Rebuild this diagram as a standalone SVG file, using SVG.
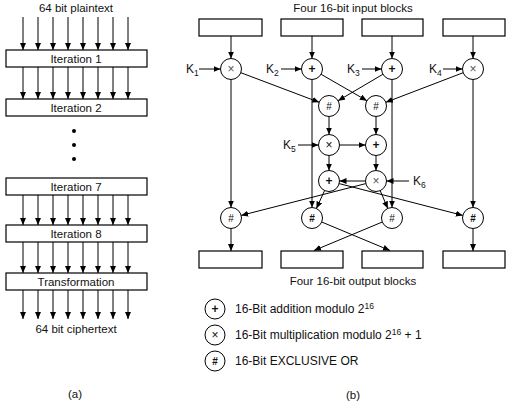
<svg xmlns="http://www.w3.org/2000/svg" width="512" height="408" viewBox="0 0 512 408">
<defs>
<marker id="ah" markerUnits="userSpaceOnUse" markerWidth="8" markerHeight="6" refX="7" refY="3" orient="auto">
<path d="M0,0 L7,3 L0,6 z" fill="#000"/>
</marker>
<style>
text{font-family:"Liberation Sans",Arial,sans-serif;font-size:11.5px;fill:#111}
.c{text-anchor:middle}
.box{fill:#fff;stroke:#000;stroke-width:1.2}
.op{fill:#fff;stroke:#000;stroke-width:1}
.sym{font-size:12px;text-anchor:middle}
.h{font-size:10px}
.x{fill:#555}
.b{font-weight:bold}
.ar{stroke:#000;stroke-width:1;fill:none;marker-end:url(#ah)}
.k{font-size:12px}
.sub{font-size:8.5px}
.lg{font-size:12px}
</style>
</defs>
<rect width="512" height="408" fill="#fff"/>

<!-- Part (a) -->
<g id="part-a">
<text class="c" x="76" y="12">64 bit plaintext</text>
<g id="a-arrows">
<line class="ar" x1="23" y1="17" x2="23" y2="50"/><line class="ar" x1="38" y1="17" x2="38" y2="50"/><line class="ar" x1="53" y1="17" x2="53" y2="50"/><line class="ar" x1="68" y1="17" x2="68" y2="50"/><line class="ar" x1="83" y1="17" x2="83" y2="50"/><line class="ar" x1="98" y1="17" x2="98" y2="50"/><line class="ar" x1="113" y1="17" x2="113" y2="50"/><line class="ar" x1="128" y1="17" x2="128" y2="50"/>
<line class="ar" x1="23" y1="67" x2="23" y2="99"/><line class="ar" x1="38" y1="67" x2="38" y2="99"/><line class="ar" x1="53" y1="67" x2="53" y2="99"/><line class="ar" x1="68" y1="67" x2="68" y2="99"/><line class="ar" x1="83" y1="67" x2="83" y2="99"/><line class="ar" x1="98" y1="67" x2="98" y2="99"/><line class="ar" x1="113" y1="67" x2="113" y2="99"/><line class="ar" x1="128" y1="67" x2="128" y2="99"/>
<line class="ar" x1="23" y1="195" x2="23" y2="225"/><line class="ar" x1="38" y1="195" x2="38" y2="225"/><line class="ar" x1="53" y1="195" x2="53" y2="225"/><line class="ar" x1="68" y1="195" x2="68" y2="225"/><line class="ar" x1="83" y1="195" x2="83" y2="225"/><line class="ar" x1="98" y1="195" x2="98" y2="225"/><line class="ar" x1="113" y1="195" x2="113" y2="225"/><line class="ar" x1="128" y1="195" x2="128" y2="225"/>
<line class="ar" x1="23" y1="242" x2="23" y2="273"/><line class="ar" x1="38" y1="242" x2="38" y2="273"/><line class="ar" x1="53" y1="242" x2="53" y2="273"/><line class="ar" x1="68" y1="242" x2="68" y2="273"/><line class="ar" x1="83" y1="242" x2="83" y2="273"/><line class="ar" x1="98" y1="242" x2="98" y2="273"/><line class="ar" x1="113" y1="242" x2="113" y2="273"/><line class="ar" x1="128" y1="242" x2="128" y2="273"/>
<line class="ar" x1="23" y1="290" x2="23" y2="319"/><line class="ar" x1="38" y1="290" x2="38" y2="319"/><line class="ar" x1="53" y1="290" x2="53" y2="319"/><line class="ar" x1="68" y1="290" x2="68" y2="319"/><line class="ar" x1="83" y1="290" x2="83" y2="319"/><line class="ar" x1="98" y1="290" x2="98" y2="319"/><line class="ar" x1="113" y1="290" x2="113" y2="319"/><line class="ar" x1="128" y1="290" x2="128" y2="319"/>
</g>
<g id="it1"><rect class="box" x="6" y="50" width="141" height="17"/><text class="c" x="76" y="62.5">Iteration 1</text></g>
<g id="it2"><rect class="box" x="6" y="99" width="141" height="17"/><text class="c" x="76" y="111.5">Iteration 2</text></g>
<g id="dots"><circle cx="74" cy="131" r="2" fill="#000"/><circle cx="74" cy="145" r="2" fill="#000"/><circle cx="74" cy="159" r="2" fill="#000"/></g>
<g id="it7"><rect class="box" x="6" y="178" width="141" height="17"/><text class="c" x="76" y="190.5">Iteration 7</text></g>
<g id="it8"><rect class="box" x="6" y="225" width="141" height="17"/><text class="c" x="76" y="237.5">Iteration 8</text></g>
<g id="trans"><rect class="box" x="6" y="273" width="141" height="17"/><text class="c" x="76" y="285.5">Transformation</text></g>
<text class="c" x="76" y="333">64 bit ciphertext</text>
<text class="c" x="75" y="398">(a)</text>
</g>

<!-- Part (b) -->
<text class="c" x="353" y="12">Four 16-bit input blocks</text>

<g id="connectors">
<line class="ar" x1="231" y1="36" x2="231" y2="58.5"/>
<line class="ar" x1="312" y1="36" x2="312" y2="58.5"/>
<line class="ar" x1="392" y1="36" x2="392" y2="58.5"/>
<line class="ar" x1="473" y1="36" x2="473" y2="58.5"/>
<line class="ar" x1="199" y1="69" x2="220.5" y2="69"/>
<line class="ar" x1="281" y1="69" x2="301.5" y2="69"/>
<line class="ar" x1="362" y1="69" x2="381.5" y2="69"/>
<line class="ar" x1="443" y1="69" x2="462.5" y2="69"/>
<line class="ar" x1="240.8" y1="72.7" x2="319.2" y2="102.3"/>
<line class="ar" x1="321.1" y1="74.3" x2="366.9" y2="100.7"/>
<line class="ar" x1="382.9" y1="74.3" x2="338.1" y2="100.7"/>
<line class="ar" x1="463.2" y1="72.7" x2="385.8" y2="102.3"/>
<line class="ar" x1="231" y1="79.5" x2="231" y2="207.5"/>
<line class="ar" x1="312" y1="79.5" x2="312" y2="207.5"/>
<line class="ar" x1="392" y1="79.5" x2="392" y2="207.5"/>
<line class="ar" x1="473" y1="79.5" x2="473" y2="207.5"/>
<line class="ar" x1="329" y1="116.5" x2="329" y2="134.5"/>
<line class="ar" x1="376" y1="116.5" x2="376" y2="134.5"/>
<line class="ar" x1="298" y1="145" x2="318.5" y2="145"/>
<line class="ar" x1="339.5" y1="145" x2="365.5" y2="145"/>
<line class="ar" x1="329" y1="155.5" x2="329" y2="170.5"/>
<line class="ar" x1="376" y1="155.5" x2="376" y2="170.5"/>
<line class="ar" x1="365.5" y1="181" x2="339.5" y2="181"/>
<line class="ar" x1="409" y1="181" x2="386.5" y2="181"/>
<line class="ar" x1="324.6" y1="190.5" x2="316.4" y2="208.5"/>
<line class="ar" x1="380.2" y1="190.6" x2="387.8" y2="208.4"/>
<line class="ar" x1="365.8" y1="183.6" x2="241.2" y2="215.4"/>
<line class="ar" x1="339.2" y1="183.6" x2="462.8" y2="215.4"/>
<line class="ar" x1="231" y1="228.5" x2="231" y2="251"/>
<line class="ar" x1="473" y1="228.5" x2="473" y2="251"/>
<line class="ar" x1="321.7" y1="222" x2="390" y2="250.5"/>
<line class="ar" x1="382.3" y1="222" x2="314" y2="250.5"/>
</g>

<g id="in1"><rect class="box" x="199" y="19" width="63" height="17"/></g>
<g id="in2"><rect class="box" x="281" y="19" width="62" height="17"/></g>
<g id="in3"><rect class="box" x="362" y="19" width="61" height="17"/></g>
<g id="in4"><rect class="box" x="443" y="19" width="62" height="17"/></g>

<g id="k1"><text class="k" x="186" y="73">K<tspan class="sub" dy="3">1</tspan></text></g>
<g id="k2"><text class="k" x="266" y="73">K<tspan class="sub" dy="3">2</tspan></text></g>
<g id="k3"><text class="k" x="347" y="73">K<tspan class="sub" dy="3">3</tspan></text></g>
<g id="k4"><text class="k" x="429" y="73">K<tspan class="sub" dy="3">4</tspan></text></g>
<g id="k5"><text class="k" x="283" y="149">K<tspan class="sub" dy="3">5</tspan></text></g>
<g id="k6"><text class="k" x="413" y="185">K<tspan class="sub" dy="3">6</tspan></text></g>

<g id="m1"><circle class="op" cx="231" cy="69" r="10.5"/><text class="sym x" x="231" y="73">×</text></g>
<g id="a2"><circle class="op" cx="312" cy="69" r="10.5"/><text class="sym b" x="312" y="73">+</text></g>
<g id="a3"><circle class="op" cx="392" cy="69" r="10.5"/><text class="sym b" x="392" y="73">+</text></g>
<g id="m4"><circle class="op" cx="473" cy="69" r="10.5"/><text class="sym x" x="473" y="73">×</text></g>

<g id="x1"><circle class="op" cx="329" cy="106" r="10.5"/><text class="sym h" x="329" y="109.5">#</text></g>
<g id="x2"><circle class="op" cx="376" cy="106" r="10.5"/><text class="sym h" x="376" y="109.5">#</text></g>

<g id="m5"><circle class="op" cx="329" cy="145" r="10.5"/><text class="sym" x="329" y="149">×</text></g>
<g id="a5"><circle class="op" cx="376" cy="145" r="10.5"/><text class="sym b" x="376" y="149">+</text></g>

<g id="a6"><circle class="op" cx="329" cy="181" r="10.5"/><text class="sym b" x="329" y="185">+</text></g>
<g id="m6"><circle class="op" cx="376" cy="181" r="10.5"/><text class="sym x" x="376" y="185">×</text></g>

<g id="x3"><circle class="op" cx="231" cy="218" r="10.5"/><text class="sym h" x="231" y="221.5">#</text></g>
<g id="x4"><circle class="op" cx="312" cy="218" r="10.5"/><text class="sym h b" x="312" y="221.5">#</text></g>
<g id="x5"><circle class="op" cx="392" cy="218" r="10.5"/><text class="sym h" x="392" y="221.5">#</text></g>
<g id="x6"><circle class="op" cx="473" cy="218" r="10.5"/><text class="sym h b" x="473" y="221.5">#</text></g>

<g id="out1"><rect class="box" x="199" y="251" width="63" height="17"/></g>
<g id="out2"><rect class="box" x="281" y="251" width="62" height="17"/></g>
<g id="out3"><rect class="box" x="362" y="251" width="61" height="17"/></g>
<g id="out4"><rect class="box" x="443" y="251" width="62" height="17"/></g>

<text class="c" x="353" y="285">Four 16-bit output blocks</text>

<g id="legend">
<g id="leg-add"><circle class="op" cx="215" cy="309" r="10"/><text class="sym b" x="215" y="313">+</text>
<text class="lg" x="235" y="313">16-Bit addition modulo 2<tspan class="sub" dy="-4">16</tspan></text></g>
<g id="leg-mul"><circle class="op" cx="215" cy="335" r="10"/><text class="sym" x="215" y="339">×</text>
<text class="lg" x="235" y="339">16-Bit multiplication modulo 2<tspan class="sub" dy="-4">16</tspan><tspan dy="4"> + 1</tspan></text></g>
<g id="leg-xor"><circle class="op" cx="215" cy="361" r="10"/><text class="sym h b" x="215" y="364.5">#</text>
<text class="lg" x="235" y="365">16-Bit EXCLUSIVE OR</text></g>
</g>

<text class="c" x="353" y="399">(b)</text>
</svg>
